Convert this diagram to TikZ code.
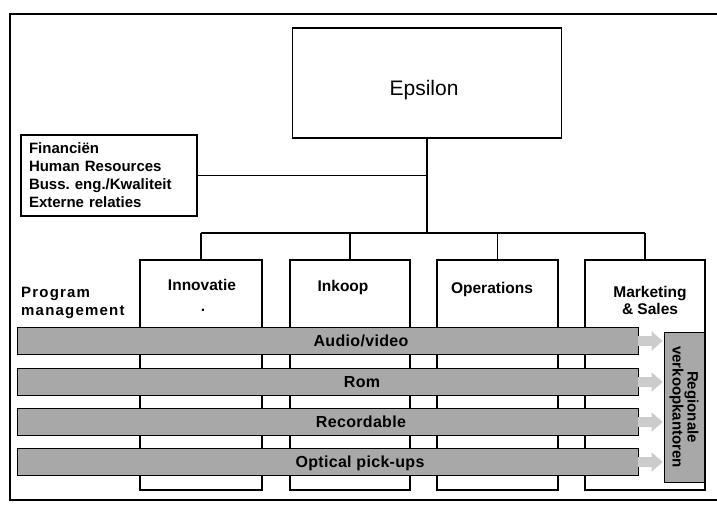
\documentclass[tikz,border=0pt]{standalone}
\usepackage{fontspec}
\setmainfont{Liberation Sans}
\newfontfamily\spacedsans[LetterSpace=8]{Liberation Sans}
\newfontfamily\barsans[LetterSpace=2]{Liberation Sans}
\usetikzlibrary{arrows.meta}
\definecolor{bargray}{gray}{0.66}
\definecolor{flowgray}{gray}{0.80}

\begin{document}
\frenchspacing
\begin{tikzpicture}[x=1pt,y=-1pt,
  wire/.style={line width=1.2pt},
  box/.style={draw, line width=1.2pt, fill=white, inner sep=0pt},
  lbl/.style={font=\fontsize{15.5}{17}\selectfont\bfseries, anchor=base, inner sep=0pt},
  pmtext/.style={font=\fontsize{15}{18}\selectfont\spacedsans\bfseries,
                 anchor=base west, inner sep=0pt},
  bar/.style={draw, line width=0.9pt, fill=bargray, minimum width=621pt,
              minimum height=27pt, inner sep=0pt},
  bartext/.style={font=\fontsize{16}{16}\selectfont\barsans\bfseries,
                  anchor=base, inner sep=0pt},
  flow/.style={line width=10pt, draw=flowgray, shorten >=1pt,
               -{Triangle[width=19pt,length=11pt]}}
]
\useasboundingbox (0,0) rectangle (717,504);

% page frame
\draw[wire] (730,14) -- (10,14) -- (10,500) -- (730,500);

% top of the organisation
\node[box, minimum width=269pt, minimum height=110pt] (eps) at (427,83) {};
\node[font=\fontsize{21}{21}\selectfont, anchor=base, inner sep=0pt] (epsl)
  at (424,95) {Epsilon};

% staff departments
\node[box, minimum width=176pt, minimum height=81pt, text width=160pt, align=left,
      font=\fontsize{15}{18}\selectfont\bfseries] (staff) at (109,175.5)
  {Financiën\\Human Resources\\Buss. eng./Kwaliteit\\Externe relaties};

% line departments
\node[box, minimum width=122pt, minimum height=230pt] (inn) at (201,375) {};
\node[box, minimum width=120pt, minimum height=230pt] (ink) at (350,375) {};
\node[box, minimum width=121pt, minimum height=230pt] (ops) at (497.5,375) {};
\node[box, minimum width=120pt, minimum height=230pt] (mkt) at (645,375) {};

\node[lbl] (innl) at (202,290) {Innovatie};
\node[lbl] (innd) at (203,311) {.};
\node[lbl] (inkl) at (343,291) {Inkoop};
\node[lbl] (opsl) at (492,293) {Operations};
\node[lbl] (mktl1) at (650,297) {Marketing};
\node[lbl] (mktl2) at (650,314) {\& Sales};

% reporting lines
\coordinate (j1) at (eps.south |- staff.east);
\coordinate (bus) at (eps.south |- 0,233);
\coordinate (busl) at (inn.north |- bus);
\coordinate (busr) at (mkt.north |- bus);
\draw[wire] (eps.south) -- (bus);
\draw[wire] (staff.east) -- (j1);
\draw[wire] (busl) -- (busr);
\foreach \d in {inn,ink,ops,mkt}
  \draw[wire] (\d.north) -- (\d.north |- bus);

% program management
\node[pmtext] (pm1) at (21,297) {Program};
\node[pmtext] (pm2) at (21,315) {management};

% regional sales offices
\node[draw, line width=0.9pt, fill=bargray, minimum width=40pt, minimum height=150pt,
      inner sep=0pt] (reg) at (684,407) {};
\node[rotate=-90, align=center, inner sep=0pt,
      font=\fontsize{15}{15}\selectfont\bfseries] (regl) at (reg.center)
  {Regionale\\verkoopkantoren};

% programmes across the departments
\node[bar] (p1) at (327.5,341) {};
\node[bar] (p2) at (327.5,382) {};
\node[bar] (p3) at (327.5,422) {};
\node[bar] (p4) at (327.5,462) {};
\node[bartext] (p1l) at (361,346) {Audio/video};
\node[bartext] (p2l) at (362,387) {Rom};
\node[bartext] (p3l) at (361,427) {Recordable};
\node[bartext] (p4l) at (360,467) {Optical pick-ups};

\foreach \p in {p1,p2,p3,p4}
  \draw[flow] (\p.east) -- (\p.east -| reg.west);
\end{tikzpicture}
\end{document}
